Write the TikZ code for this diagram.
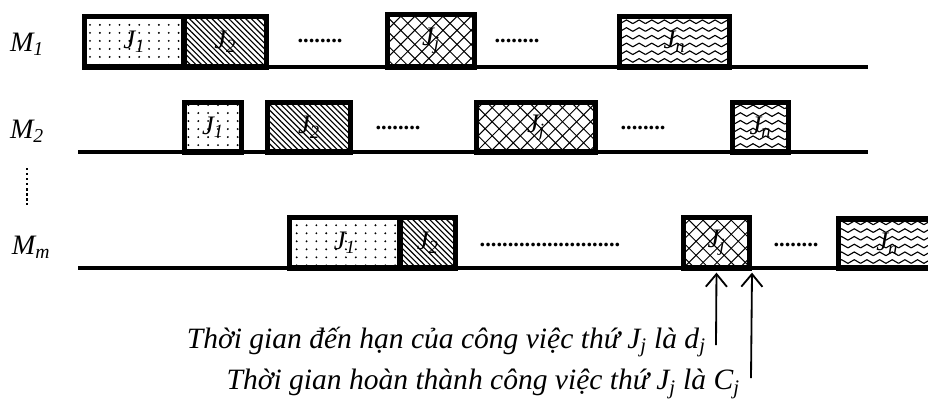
\documentclass[tikz,border=0pt]{standalone}
\usepackage{fontspec}
\setmainfont{Liberation Serif}
\usepackage{tikz}
\usetikzlibrary{patterns,arrows.meta}

% fill patterns of the jobs
\pgfdeclarepatternformonly{jdots}{\pgfqpoint{-1pt}{-1pt}}{\pgfqpoint{8pt}{7pt}}{\pgfqpoint{7pt}{5.7pt}}{%
	\pgfpathcircle{\pgfqpoint{1pt}{1pt}}{0.75pt}\pgfusepath{fill}}
\pgfdeclarepatternformonly{jlines}{\pgfqpoint{-1pt}{-1pt}}{\pgfqpoint{5pt}{5pt}}{\pgfqpoint{4pt}{4pt}}{%
	\pgfsetlinewidth{0.8pt}\pgfpathmoveto{\pgfqpoint{0pt}{4pt}}\pgfpathlineto{\pgfqpoint{4pt}{0pt}}\pgfusepath{stroke}}
\pgfdeclarepatternformonly{jcross}{\pgfqpoint{-1pt}{-1pt}}{\pgfqpoint{11pt}{11pt}}{\pgfqpoint{10pt}{10pt}}{%
	\pgfsetlinewidth{0.7pt}\pgfpathmoveto{\pgfqpoint{0pt}{0pt}}\pgfpathlineto{\pgfqpoint{10pt}{10pt}}
	\pgfpathmoveto{\pgfqpoint{0pt}{10pt}}\pgfpathlineto{\pgfqpoint{10pt}{0pt}}\pgfusepath{stroke}}
\pgfdeclarepatternformonly{jwave}{\pgfqpoint{-1pt}{-1pt}}{\pgfqpoint{10pt}{4pt}}{\pgfqpoint{9pt}{5.5pt}}{%
	\pgfsetlinewidth{0.8pt}\pgfpathmoveto{\pgfqpoint{0pt}{0.3pt}}\pgfpathlineto{\pgfqpoint{4.5pt}{2.9pt}}
	\pgfpathlineto{\pgfqpoint{9pt}{0.3pt}}\pgfusepath{stroke}}

\newcommand\jlab[1]{\textit{J\textsubscript{#1}}}

\begin{document}
\begin{tikzpicture}[x=0.025cm,y=-0.025cm,
		jbox/.style={draw,line width=3.6pt,inner sep=0pt,font=\fontsize{19}{19}\selectfont},
		base/.style={line width=2.2pt},
		arr/.style={line width=1.3pt,-{Straight Barb[length=9pt,width=15pt,line width=1.3pt]},shorten >=1.5pt},
		lbl/.style={font=\fontsize{20}{20}\selectfont\itshape},
		gap/.style={font=\fontsize{16}{16}\selectfont\bfseries},
		note/.style={font=\fontsize{21}{21}\selectfont\itshape,anchor=east,inner sep=0pt}]
	\useasboundingbox (0,0) rectangle (928,403);
	
	% machine lines
	\coordinate (l1s) at (82,67); \coordinate (l1e) at (868,67);
	\coordinate (l2s) at (78,152); \coordinate (l2e) at (868,152);
	\coordinate (lms) at (78,268); \coordinate (lme) at (940,268);
	\draw[base] (l1s) -- (l1e);
	\draw[base] (l2s) -- (l2e);
	\draw[base] (lms) -- (lme);
	
	\node[lbl] (m1) at (27,44) {M\textsubscript{1}};
	\node[lbl] (m2) at (27,131) {M\textsubscript{2}};
	\node[lbl] (mm) at (31,247) {M\textsubscript{m}};
	\coordinate (vs) at (27,168); \coordinate (ve) at (27,205);
	\draw[line width=1.6pt,dotted] (vs) -- (ve);
	
	% jobs on the machines
	\foreach \nm/\xa/\xb/\yt/\yb/\pat/\lab in
		{m1a/84.5/184/16.5/67/jdots/1, m1b/184/266.5/16.5/67/jlines/2,
		 m1j/387.5/474.5/14.5/67/jcross/j, m1n/619.5/729.5/16.5/67/jwave/n,
		 m2a/184.5/241.5/102.5/152/jdots/1, m2b/267.5/350.5/102.5/152/jlines/2,
		 m2j/476.5/595.5/102.5/152/jcross/j, m2n/732.5/788.5/102.5/152/jwave/n,
		 mma/289.5/400/217.5/268/jdots/1, mmb/400/455.5/217.5/268/jlines/2,
		 mmj/683.5/749.5/217.5/268/jcross/j, mmn/838.5/936/219/268/jwave/n} {
		\node[jbox,pattern=\pat,minimum width={(\xb-\xa)*0.025cm},minimum height={(\yb-\yt)*0.025cm}]
			(\nm) at ({(\xa+\xb)/2},{(\yt+\yb)/2}) {\jlab{\lab}};
	}
	
	\node[gap] (g1) at (320,41) {........};
	\node[gap] (g2) at (517,41) {........};
	\node[gap] (g3) at (398,128) {........};
	\node[gap] (g4) at (643,128) {........};
	\node[gap] (g5) at (550,245) {.........................};
	\node[gap] (g6) at (796,245) {........};
	
	% due date and completion time
	\coordinate (dj) at (716,345);
	\coordinate (cj) at (751,378);
	\draw[arr] (dj) -- (mmj.south);
	\draw[arr] (cj) -- (mmj.south east);
	\node[note] (tdj) at (706,342) {Thời gian đến hạn của công việc thứ J\textsubscript{j} là d\textsubscript{j}};
	\node[note] (tcj) at (740,384) {Thời gian hoàn thành công việc thứ J\textsubscript{j} là C\textsubscript{j}};
\end{tikzpicture}
\end{document}
